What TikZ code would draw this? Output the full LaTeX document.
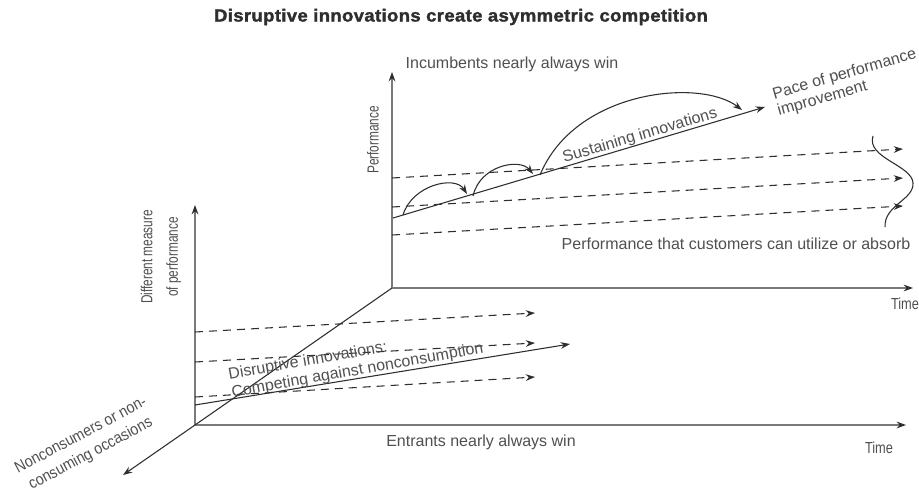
\documentclass[tikz,border=0pt]{standalone}
\usepackage{fontspec}
\setmainfont{Liberation Sans}
\newfontfamily\vnarrow{Liberation Sans}[FakeStretch=0.74]
\newfontfamily\dnarrow{Liberation Sans}[FakeStretch=0.9]
\newfontfamily\tnarrow{Liberation Sans}[FakeStretch=0.8]
\newfontfamily\titlefont{Liberation Sans Bold}[FakeStretch=1.06,FakeBold=1.6,LetterSpace=2]
\usetikzlibrary{arrows.meta}
\definecolor{ink}{HTML}{2E2E2E}
\definecolor{txt}{HTML}{505050}
\definecolor{axisgray}{HTML}{7A7A7A}
\begin{document}
\begin{tikzpicture}[x=0.75pt,y=-0.75pt,
  tip/.style={-{Stealth[length=7pt,width=5pt,color=ink]}},
  axisline/.style={draw=axisgray,line width=1.5pt,tip},
  solidline/.style={draw=ink,line width=0.8pt},
  dashline/.style={draw=ink,line width=0.8pt,dash pattern=on 6pt off 4.5pt,tip},
  lbl/.style={text=txt,font=\fontsize{12}{13.5}\selectfont,inner sep=0pt},
  vlbl/.style={text=txt,font=\vnarrow\fontsize{12}{19}\selectfont,inner sep=0pt,rotate=90},
  dlbl/.style={text=txt,font=\dnarrow\fontsize{12}{15.75}\selectfont,inner sep=0pt},
  tlbl/.style={text=txt,font=\tnarrow\fontsize{12}{13.5}\selectfont,inner sep=0pt},
  ttl/.style={text=ink,font=\titlefont\fontsize{13.1}{15}\selectfont,inner sep=0pt}]
\useasboundingbox[fill=white] (0,0) rectangle (919,492);

% title
\node[ttl] (title) at (461,17) {Disruptive innovations create asymmetric competition};

% axes coordinates
\coordinate (O1) at (392,288);
\coordinate (Y1) at (392,72);
\coordinate (X1) at (913,288);
\coordinate (O2) at (195,425);
\coordinate (Y2) at (195,205);
\coordinate (X2) at (906,425);
\coordinate (Z) at (123,475);

\draw[axisline] (O1) -- (Y1);
\draw[axisline] (O1) -- (X1);
\draw[axisline] (O2) -- (Y2);
\draw[axisline] (O2) -- (X2);
\draw[solidline,tip] (O1) -- (O2) -- (Z);

% upper dashed lines
\coordinate (ua1) at (392,178); \coordinate (ub1) at (903,149);
\coordinate (ua2) at (392,207); \coordinate (ub2) at (903,178);
\coordinate (ua3) at (392,235); \coordinate (ub3) at (903,206);
\draw[dashline] (ua1) -- (ub1);
\draw[dashline] (ua2) -- (ub2);
\draw[dashline] (ua3) -- (ub3);

% sustaining trajectory
\coordinate (s0) at (393,218);
\coordinate (s1) at (403,215);
\coordinate (s2) at (473,196);
\coordinate (s3) at (540,175);
\coordinate (s4) at (765,107);
\coordinate (e1) at (467,194);
\coordinate (e2) at (533,174);
\coordinate (e3) at (742,110);
\draw[solidline,tip] (s0) -- (s4);
\draw[solidline,tip] (s1) .. controls (412,185) and (455,175) .. (e1);
\draw[solidline,tip] (s2) .. controls (480,165) and (520,158) .. (e2);
\draw[solidline,tip] (s3) .. controls (575,90) and (700,78) .. (e3);

% distribution curve
\coordinate (w0) at (873,136);
\coordinate (w1) at (913,183);
\coordinate (w2) at (885,227);
\draw[solidline] (w0) .. controls (866,158) and (912,165) .. (w1)
  .. controls (914,200) and (884,205) .. (w2);

% lower dashed lines
\coordinate (la1) at (195,332); \coordinate (lb1) at (535,313);
\coordinate (la2) at (195,362); \coordinate (lb2) at (535,343);
\coordinate (la3) at (195,397); \coordinate (lb3) at (535,377);
\draw[dashline] (la1) -- (lb1);
\draw[dashline] (la2) -- (lb2);
\draw[dashline] (la3) -- (lb3);
\coordinate (d0) at (195,405);
\coordinate (d1) at (570,344);
\draw[solidline,tip] (d0) -- (d1);

% labels
\node[lbl] (inc) at (512,64) {Incumbents nearly always win};
\node[vlbl] (perf) at (373,140) {Performance};
\node[lbl,rotate=16.4] (sust) at (640,136) {Sustaining innovations};
\node[lbl,rotate=16,align=left,font=\fontsize{12}{13}\selectfont] (pace) at (847,83) {Pace of performance\\improvement};
\node[lbl] (absorb) at (736,244) {Performance that customers can utilize or absorb};
\node[tlbl] (time1) at (905,304) {Time};
\node[tlbl] (time2) at (879,448) {Time};
\node[lbl] (ent) at (481,442) {Entrants nearly always win};
\node[vlbl,align=center] (diff) at (161,257) {Different measure\\of performance};
\node[lbl,rotate=10,align=left] (disr) at (356,362) {Disruptive innovations:\\Competing against nonconsumption};
\node[dlbl,rotate=28,align=center] (noncon) at (86,445) {Nonconsumers or non-\\consuming occasions};
\end{tikzpicture}
\end{document}
